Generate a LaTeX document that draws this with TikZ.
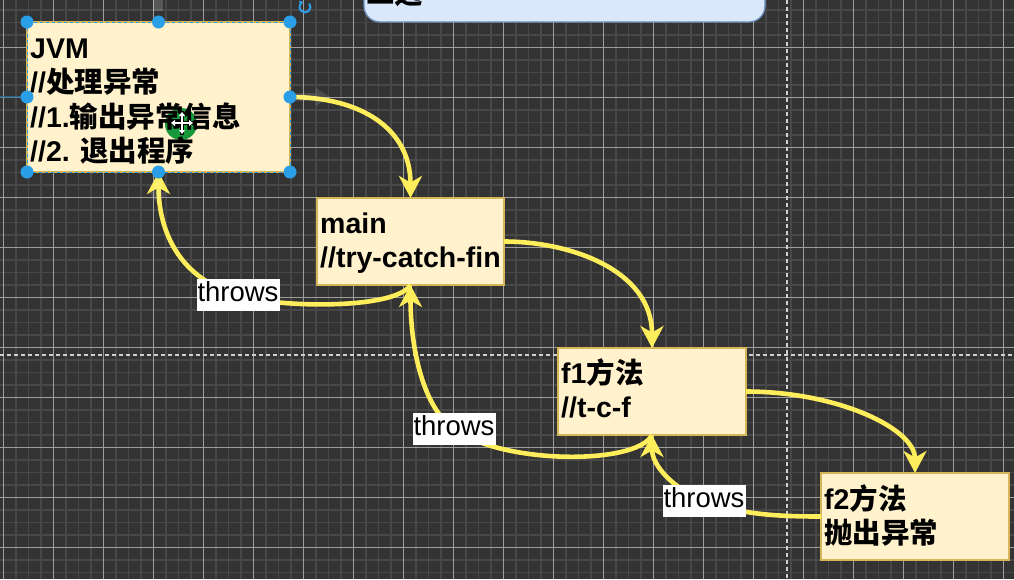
\documentclass[tikz,border=0pt]{standalone}
\usepackage{fontspec}
\setmainfont{Liberation Sans}
\newfontfamily\cjk{Noto Sans CJK SC}
\newcommand\zhs[1]{{\cjk #1}}
\usetikzlibrary{arrows.meta}

\definecolor{canvas}{HTML}{333333}
\definecolor{minorline}{HTML}{484848}
\definecolor{majorline}{HTML}{9E9E9E}
\definecolor{pagebreak}{HTML}{D0D0D0}
\definecolor{boxfill}{HTML}{FFF2CC}
\definecolor{boxline}{HTML}{D6B656}
\definecolor{notefill}{HTML}{DAE8FC}
\definecolor{noteline}{HTML}{6C8EBF}
\definecolor{wire}{HTML}{FFEE5C}
\definecolor{handleblue}{HTML}{2A9FE8}
\definecolor{cursorgreen}{HTML}{17993B}

\pgfdeclarelayer{front}
\pgfsetlayers{main,front}

\tikzset{
  minorgrid/.style={draw=minorline, line width=1.5pt},
  majorgrid/.style={draw=majorline, line width=1.2pt},
  breakline/.style={draw=pagebreak, line width=1.2pt, dash pattern=on 4pt off 3pt},
  methodbox/.style={draw=boxline, fill=boxfill, line width=1.3pt, outer sep=0pt,
    inner sep=0pt, anchor=north west},
  boxtext/.style={font=\fontsize{28.5pt}{34.5pt}\selectfont\bfseries, align=left,
    inner sep=0pt, anchor=north west},
  throwslabel/.style={fill=white, font=\fontsize{27.5pt}{30pt}\selectfont,
    inner xsep=1pt, inner ysep=2pt, text height=21pt, text depth=7.5pt},
  flow/.style={draw=wire, line width=4.6pt,
    -{Stealth[length=22pt,width=23pt,inset=6.5pt]}},
  handle/.style={fill=handleblue},
}

\begin{document}
\begin{tikzpicture}[x=1pt,y=-1pt]
\useasboundingbox (0,0) rectangle (1014,579);
\clip (0,0) rectangle (1014,579);

% canvas and grid
\fill[canvas] (0,0) rectangle (1014,579);
\foreach \i in {0,...,81} \draw[minorgrid] ({3.3+12.5*\i},0) -- ++(0,579);
\foreach \j in {1,...,46} \draw[minorgrid] (0,{-2.7+12.5*\j}) -- ++(1014,0);
\foreach \i in {0,...,20} \draw[majorgrid] ({3.3+50*\i},0) -- ++(0,579);
\foreach \j in {0,...,10} \draw[majorgrid] (0,{47.3+50*\j}) -- ++(1014,0);
\draw[breakline] (0,355) -- (1014,355);
\draw[breakline] (787,0) -- (787,579);

% note at the top edge
\node[draw=noteline, fill=notefill, line width=1.3pt, rounded corners=16pt,
  minimum width=401pt, minimum height=60pt, outer sep=0pt, anchor=south west]
  (note) at (364,22) {};
\node[font=\fontsize{28.5pt}{34pt}\selectfont\bfseries, inner sep=0pt, anchor=base west]
  (notetext) at (366,3) {\zhs{二选}};

% method boxes
\node[methodbox, minimum width=263pt, minimum height=150pt] (jvm) at (27,22) {};
\node[methodbox, minimum width=187pt, minimum height=87pt] (main) at (317,198) {};
\node[methodbox, minimum width=188pt, minimum height=87pt] (f1) at (558,348) {};
\node[methodbox, minimum width=188pt, minimum height=87pt] (f2) at (821,473) {};

% move indicator behind the JVM text
\fill[cursorgreen] (181,124) circle (16);

\node[boxtext] (jvmtext) at (30,32)
  {\rule{0pt}{26pt}JVM\\//\zhs{处理异常}\\//1.\zhs{输出异常信息}\\//2. \zhs{退出程序}};
\node[boxtext] (maintext) at (320,207) {\rule{0pt}{26pt}main\\//try-catch-fin};
\node[boxtext] (f1text) at (561,357) {\rule{0pt}{26pt}f1\zhs{方法}\\//t-c-f};
\node[boxtext] (f2text) at (824,483) {\rule{0pt}{26pt}f2\zhs{方法}\\\zhs{抛出异常}};

% edge labels
\begin{pgfonlayer}{front}
\node[throwslabel] (tA) at (238,295) {throws};
\node[throwslabel] (tB) at (454,429) {throws};
\node[throwslabel] (tC) at (704,501) {throws};
\end{pgfonlayer}

% calls
\draw[flow] (jvm.east) .. controls +(70,0) and +(0,-70) .. (main.north);
\draw[flow] (main.east) .. controls +(66,0) and +(0,-78) .. (f1.north);
\draw[flow] (f1.east) .. controls +(90,0) and +(0,-45) .. (f2.north);

% thrown exceptions
\draw[flow] (main.south) .. controls +(-15,25) and +(37,13) .. (tA.center)
  .. controls +(-58,-16) and +(0,60) .. (jvm.south);
\draw[flow] (f1.south) .. controls +(-15,30) and +(50,36) .. (tB.center)
  .. controls +(-34,-24) and +(0,55) .. (main.south);
\draw[flow] (f2.west) .. controls +(-40,0) and +(38,14) .. (tC.center)
  .. controls +(-32,-13) and +(0,30) .. (f1.south);

% hover hints around the selected box
\fill[white, opacity=0.18] (153,0) rectangle (163,11);
\draw[handleblue!60!canvas, line width=2.5pt, opacity=0.7] (0,97) -- (21,97);
\fill[white, opacity=0.12] (296,93) -- (316,93) -- (316,88) -- (330,97)
  -- (316,106) -- (316,101) -- (296,101) -- cycle;
\fill[white, opacity=0.12] (154,180) -- (154,192) -- (149,192) -- (158,204)
  -- (167,192) -- (162,192) -- (162,180) -- cycle;

% selection frame and handles
\draw[handleblue, line width=1pt, dash pattern=on 3pt off 3pt]
  (jvm.north west) rectangle (jvm.south east);
\foreach \p in {north west,north,north east,west,east,south west,south,south east}
  \fill[handle] (jvm.\p) circle (6.5);
\draw[handleblue, line width=2pt, -{Triangle[length=3.5pt,width=5pt]}]
  (305,7) ++(-40:5.5) arc[start angle=-40, end angle=250, radius=5.5];

% move cursor
\draw[black, line width=3.2pt] (170,123) -- (194,123) (182,111) -- (182,135);
\draw[white, line width=1.4pt, {Triangle[length=4pt,width=6pt]}-{Triangle[length=4pt,width=6pt]}]
  (171,123) -- (193,123);
\draw[white, line width=1.4pt, {Triangle[length=4pt,width=6pt]}-{Triangle[length=4pt,width=6pt]}]
  (182,112) -- (182,134);
\end{tikzpicture}
\end{document}
